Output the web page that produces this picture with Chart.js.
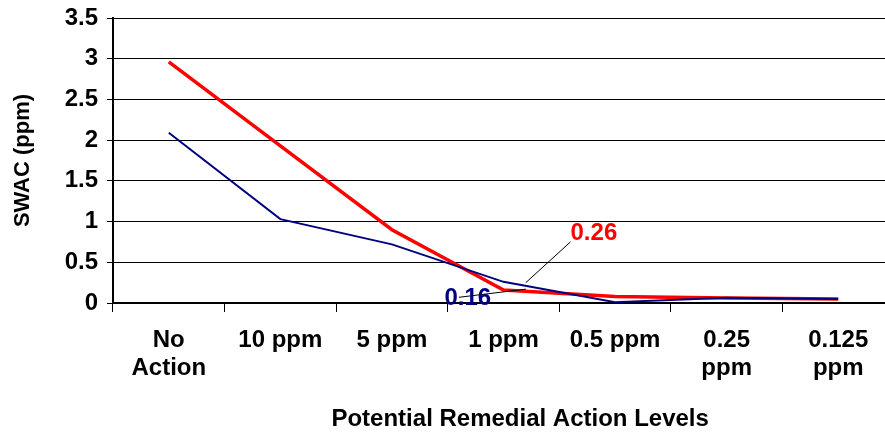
<!DOCTYPE html>
<html>
<head>
<meta charset="utf-8">
<script src="https://cdn.jsdelivr.net/npm/chart.js@4.4.0/dist/chart.umd.min.js"></script>
<style>
  html, body { margin: 0; padding: 0; background: #fff; overflow: hidden; }
  #wrap { width: 894px; height: 435px; }
</style>
</head>
<body>
<div id="wrap"><canvas id="swac"></canvas></div>
<script>
const levels = [['No', 'Action'], '10 ppm', '5 ppm', '1 ppm', '0.5 ppm', ['0.25', 'ppm'], ['0.125', 'ppm']]
const redSwac = [2.96, 1.93, 0.90, 0.16, 0.08, 0.06, 0.05]
const blueSwac = [2.09, 1.03, 0.72, 0.26, 0.01, 0.065, 0.05]
const yTicks = [0, 0.5, 1, 1.5, 2, 2.5, 3, 3.5]

// callout labels, anchored in data units (category index, ppm)
const callouts = [
    { text: '0.26', color: '#FF0000', at: [3.81, 0.86], from: [3.6, 0.75], to: [3.2, 0.25] },
    { text: '0.16', color: '#000080', at: [2.68, 0.06], from: [2.6, 0.07], to: [3.2, 0.17] }
]

const font = 'Liberation Sans, Arial, sans-serif'

const calloutPlugin = {
    id: 'callouts',
    afterDraw(chart) {
        const ctx = chart.ctx
        const x = chart.scales.x
        const y = chart.scales.y
        ctx.save()
        callouts.forEach(c => {
            ctx.strokeStyle = '#000'
            ctx.lineWidth = 1
            ctx.beginPath()
            ctx.moveTo(x.getPixelForValue(c.from[0]), y.getPixelForValue(c.from[1]))
            ctx.lineTo(x.getPixelForValue(c.to[0]), y.getPixelForValue(c.to[1]))
            ctx.stroke()
            ctx.fillStyle = c.color
            ctx.font = 'bold 24px ' + font
            ctx.textAlign = 'center'
            ctx.textBaseline = 'middle'
            ctx.fillText(c.text, x.getPixelForValue(c.at[0]), y.getPixelForValue(c.at[1]))
        })
        ctx.restore()
    }
}

new Chart(document.getElementById('swac'), {
    type: 'line',
    data: {
        labels: levels,
        datasets: [{
            label: 'blue',
            data: blueSwac,
            borderColor: '#000080',
            borderWidth: 2,
            pointRadius: 0,
            tension: 0
        }, {
            label: 'red',
            data: redSwac,
            borderColor: '#FF0000',
            borderWidth: 3.5,
            pointRadius: 0,
            tension: 0
        }]
    },
    options: {
        responsive: true,
        maintainAspectRatio: false,
        animation: false,
        layout: { padding: { top: 18, right: 0, left: 0, bottom: 0 } },
        plugins: {
            legend: { display: false },
            tooltip: { enabled: false }
        },
        scales: {
            x: {
                offset: true,
                afterFit: s => { s.height = 132; s.paddingLeft = 0; s.paddingRight = 0 },
                grid: { offset: true, drawOnChartArea: false, drawTicks: true, tickLength: 9, color: '#000' },
                border: { color: '#000', width: 2 },
                ticks: {
                    color: '#000',
                    padding: 14,
                    maxRotation: 0,
                    autoSkip: false,
                    font: { family: font, size: 24, weight: 'bold', lineHeight: 1.17 }
                },
                title: {
                    display: true,
                    // leading spaces nudge the centred title right, as in the original
                    text: '     Potential Remedial Action Levels',
                    color: '#000',
                    padding: { top: 0, bottom: 1 },
                    font: { family: font, size: 24, weight: 'bold' }
                }
            },
            y: {
                min: 0,
                max: 3.5,
                afterFit: s => { s.width = 113; s.paddingTop = 0; s.paddingBottom = 0 },
                afterBuildTicks: s => { s.ticks = yTicks.map(v => ({ value: v })) },
                grid: { color: '#000', lineWidth: 1, tickLength: 6 },
                border: { color: '#000', width: 2 },
                ticks: {
                    color: '#000',
                    padding: 9,
                    callback: v => String(v),
                    font: { family: font, size: 24, weight: 'bold' }
                },
                title: {
                    display: true,
                    text: 'SWAC (ppm)',
                    color: '#000',
                    padding: { top: 10, bottom: 0 },
                    font: { family: font, size: 22, weight: 'bold' }
                }
            }
        }
    },
    plugins: [calloutPlugin]
})
</script>
</body>
</html>
